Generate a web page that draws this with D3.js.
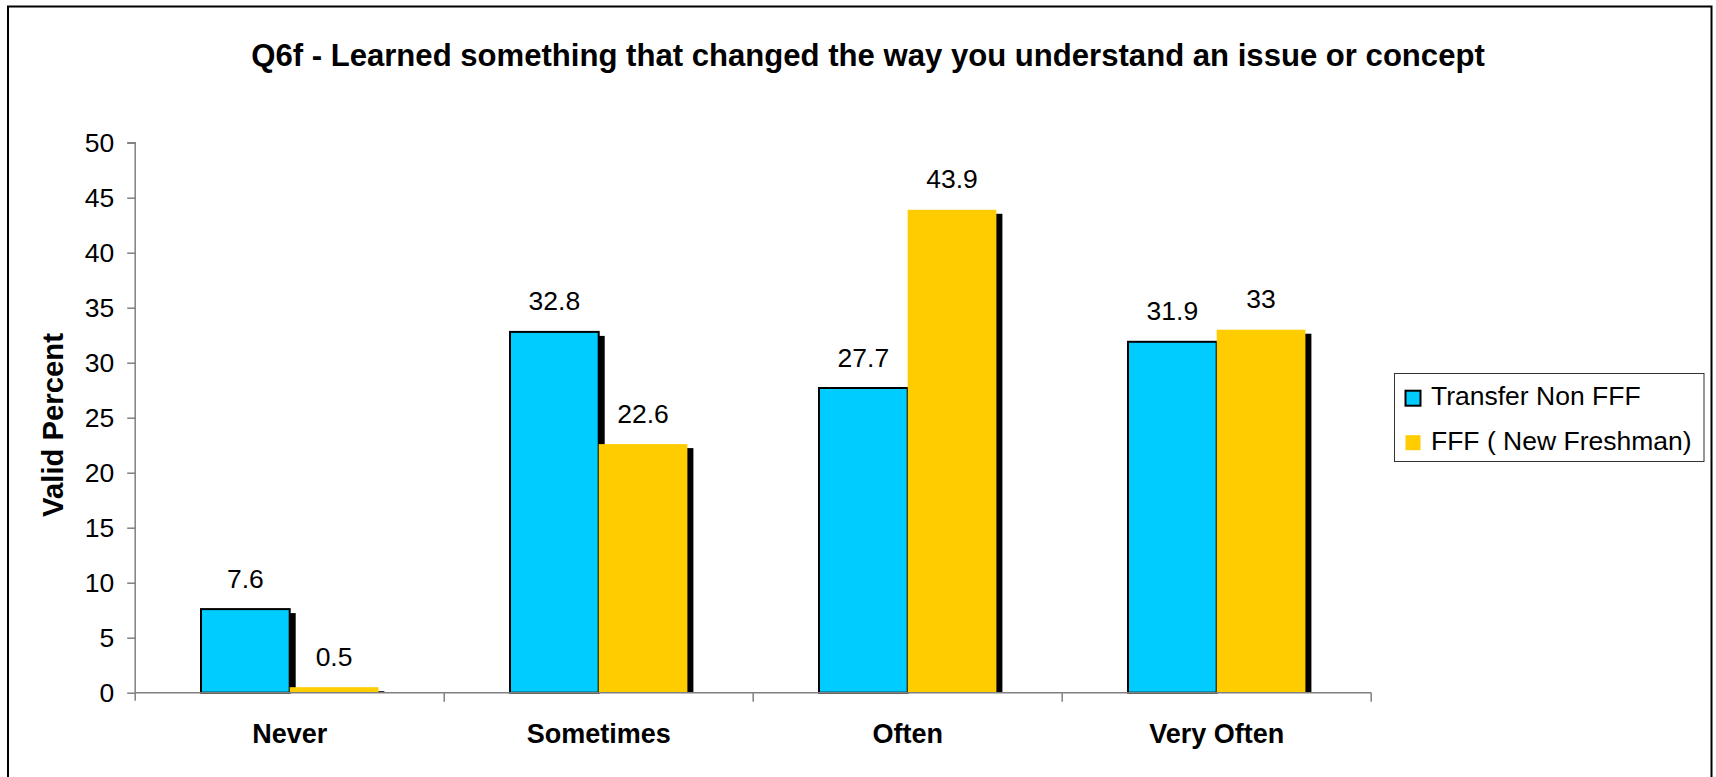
<!DOCTYPE html>
<html>
<head>
<meta charset="utf-8">
<script src="https://cdn.jsdelivr.net/npm/d3@7"></script>
<style>
  html, body { margin: 0; padding: 0; background: #fff; }
  svg { display: block; font-family: "Liberation Sans", Arial, sans-serif; }
</style>
</head>
<body>
<svg id="chart" width="1716" height="777"></svg>
<script>
const categories = ["Never", "Sometimes", "Often", "Very Often"];
const seriesNames = ["Transfer Non FFF", "FFF ( New Freshman)"];
const transferValues = [7.6, 32.8, 27.7, 31.9];
const fffValues = [0.5, 22.6, 43.9, 33];
const labelTransfer = ["7.6", "32.8", "27.7", "31.9"];
const labelFFF = ["0.5", "22.6", "43.9", "33"];
const yTicks = [0, 5, 10, 15, 20, 25, 30, 35, 40, 45, 50];
const colors = ["#00CCFF", "#FFCC00"];
const titleText = "Q6f - Learned something that changed the way you understand an issue or concept";
const yTitle = "Valid Percent";

const svg = d3.select("#chart");

// outer border
svg.append("rect").attr("x", 8).attr("y", 6.5).attr("width", 1703.5).attr("height", 800)
  .attr("fill", "none").attr("stroke", "#000").attr("stroke-width", 2);

const plot = { left: 135.2, right: 1371.2, top: 142.7, bottom: 692.7 };

const x = d3.scaleBand().domain(categories).range([plot.left, plot.right]).paddingInner(0).paddingOuter(0);
const barW = 88.7;
const y = d3.scaleLinear().domain([0, 50]).range([plot.bottom, plot.top]);

const data = [];
categories.forEach((c, i) => {
  data.push({ cat: c, s: 0, v: transferValues[i], label: labelTransfer[i] });
  data.push({ cat: c, s: 1, v: fffValues[i], label: labelFFF[i] });
});
function barX(d) { const mid = x(d.cat) + x.bandwidth() / 2; return d.s === 0 ? mid - barW : mid; }

// shadows
svg.append("g").selectAll("rect").data(data).enter().append("rect")
  .attr("x", d => barX(d) + 6)
  .attr("y", d => y(d.v) + 4)
  .attr("width", barW)
  .attr("height", d => Math.max(0, y(0) - y(d.v) - 4))
  .attr("fill", "#000");

// bars
svg.append("g").selectAll("rect").data(data).enter().append("rect")
  .attr("x", d => barX(d))
  .attr("y", d => y(d.v))
  .attr("width", barW)
  .attr("height", d => y(0) - y(d.v))
  .attr("fill", d => colors[d.s])
  .attr("stroke", d => d.s === 0 ? "#000" : "none")
  .attr("stroke-width", 2);

// y axis
const yAxis = d3.axisLeft(y).tickValues(yTicks).tickSize(8).tickPadding(13).tickFormat(d3.format("d"));
const gy = svg.append("g").attr("transform", `translate(${plot.left},0)`).call(yAxis);
gy.select(".domain").attr("stroke", "#808080").attr("stroke-width", 1.5)
  .attr("d", `M-8,${plot.top}H0V${plot.bottom + 8}`);
gy.selectAll(".tick line").attr("stroke", "#808080").attr("stroke-width", 1.5);
gy.selectAll(".tick text").attr("font-size", 26.5).attr("fill", "#000")
  .attr("font-family", "'Liberation Sans', Arial, sans-serif");

// x axis baseline and tick marks at band boundaries
svg.append("line").attr("x1", plot.left).attr("x2", plot.right)
  .attr("y1", plot.bottom).attr("y2", plot.bottom)
  .attr("stroke", "#808080").attr("stroke-width", 1.5);
const bounds = categories.map(c => x(c)).concat([plot.right]);
svg.append("g").selectAll("line").data(bounds.slice(1)).enter().append("line")
  .attr("x1", d => d).attr("x2", d => d)
  .attr("y1", plot.bottom).attr("y2", plot.bottom + 9)
  .attr("stroke", "#808080").attr("stroke-width", 1.5);

// category labels
svg.append("g").selectAll("text").data(categories).enter().append("text")
  .attr("x", d => x(d) + x.bandwidth() / 2)
  .attr("y", 742.7)
  .attr("text-anchor", "middle")
  .attr("font-size", 27).attr("font-weight", "bold")
  .text(d => d);

// value labels
svg.append("g").selectAll("text").data(data).enter().append("text")
  .attr("x", d => barX(d) + barW / 2)
  .attr("y", d => y(d.v) - 21.5)
  .attr("text-anchor", "middle")
  .attr("font-size", 26.5)
  .text(d => d.label);

// title
const t = svg.append("text").attr("x", 868).attr("y", 66)
  .attr("text-anchor", "middle").attr("font-size", 29).attr("font-weight", "bold")
  .text(titleText);
const tw = t.node().getComputedTextLength();
t.attr("font-size", 29 * 1234 / tw);

// y title
const yt = svg.append("text")
  .attr("transform", "translate(63,425) rotate(-90)")
  .attr("text-anchor", "middle").attr("font-size", 28).attr("font-weight", "bold")
  .text(yTitle);
const yw = yt.node().getComputedTextLength();
yt.attr("font-size", 28 * 184 / yw);

// legend
const lg = svg.append("g");
lg.append("rect").attr("x", 1394.5).attr("y", 373.5).attr("width", 309.5).attr("height", 88)
  .attr("fill", "#fff").attr("stroke", "#333").attr("stroke-width", 1);
seriesNames.forEach((n, i) => {
  const yy = 390.7 + i * 44.5;
  lg.append("rect").attr("x", 1405.5).attr("y", yy).attr("width", 15).attr("height", 15)
    .attr("fill", colors[i])
    .attr("stroke", i === 0 ? "#000" : "none").attr("stroke-width", 2);
  lg.append("text").attr("x", 1431).attr("y", 405 + i * 45)
    .attr("font-size", 26.5).text(n);
});
</script>
</body>
</html>
